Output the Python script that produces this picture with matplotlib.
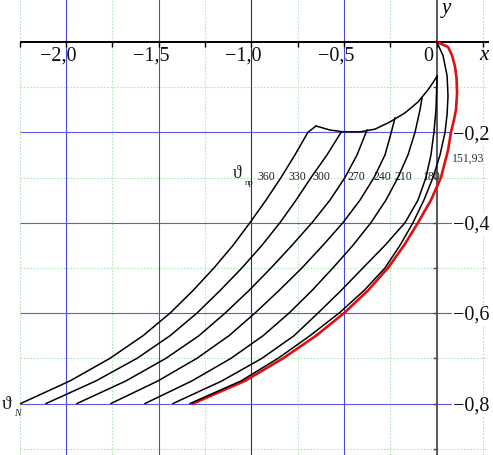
import matplotlib
matplotlib.use("Agg")
import matplotlib.pyplot as plt
import numpy as np

# ---------------- data ----------------
c360_x = [-2.245, -1.979, -1.763, -1.585, -1.439, -1.315, -1.202, -1.099, -1.008, -0.921, -0.840, -0.765, -0.695, -0.651]
c360_y = [-0.80, -0.75, -0.70, -0.65, -0.60, -0.55, -0.50, -0.45, -0.40, -0.35, -0.30, -0.25, -0.20, -0.186]

c330_x = [-2.108, -1.839, -1.617, -1.439, -1.294, -1.169, -1.051, -0.943, -0.846, -0.759, -0.678, -0.592, -0.516]
c330_y = [-0.80, -0.75, -0.70, -0.65, -0.60, -0.55, -0.50, -0.45, -0.40, -0.35, -0.30, -0.25, -0.200]

c300_x = [-1.941, -1.677, -1.461, -1.283, -1.142, -1.013, -0.894, -0.781, -0.673, -0.576, -0.495, -0.430, -0.381, -0.376]
c300_y = [-0.80, -0.75, -0.70, -0.65, -0.60, -0.55, -0.50, -0.45, -0.40, -0.35, -0.30, -0.25, -0.20, -0.195]

c270_x = [-1.758, -1.504, -1.294, -1.121, -0.981, -0.851, -0.727, -0.614, -0.506, -0.414, -0.338, -0.279, -0.245, -0.225]
c270_y = [-0.80, -0.75, -0.70, -0.65, -0.60, -0.55, -0.50, -0.45, -0.40, -0.35, -0.30, -0.25, -0.20, -0.168]

c240_x = [-1.574, -1.321, -1.110, -0.937, -0.797, -0.673, -0.560, -0.452, -0.355, -0.274, -0.209, -0.155, -0.117, -0.090, -0.079]
c240_y = [-0.80, -0.75, -0.70, -0.65, -0.60, -0.55, -0.50, -0.45, -0.40, -0.35, -0.30, -0.25, -0.20, -0.15, -0.124]

c210_x = [-1.423, -1.159, -0.943, -0.770, -0.641, -0.516, -0.398, -0.279, -0.171, -0.101, -0.058, -0.031, -0.015, -0.004, 0.002]
c210_y = [-0.80, -0.75, -0.70, -0.65, -0.60, -0.55, -0.50, -0.45, -0.40, -0.35, -0.30, -0.25, -0.20, -0.15, -0.078]

c180_x = [-1.331, -1.056, -0.856, -0.684, -0.527, -0.392, -0.279, -0.198, -0.128, -0.069, -0.020, 0.018, 0.045, 0.056, 0.061, 0.056, 0.034, 0.0]
c180_y = [-0.80, -0.75, -0.70, -0.65, -0.60, -0.55, -0.50, -0.45, -0.40, -0.35, -0.30, -0.25, -0.20, -0.16, -0.12, -0.075, -0.03, 0.0]

red_x = [-1.315, -1.035, -0.829, -0.651, -0.500, -0.371, -0.263, -0.176, -0.101, -0.031, 0.023, 0.061, 0.077, 0.093, 0.104, 0.110, 0.107, 0.099, 0.083, 0.061, 0.0]
red_y = [-0.80, -0.75, -0.70, -0.65, -0.60, -0.55, -0.50, -0.45, -0.40, -0.35, -0.30, -0.24, -0.20, -0.173, -0.15, -0.113, -0.08, -0.055, -0.03, -0.011, 0.0]

arc_x = [-0.651, -0.576, -0.500, -0.414, -0.333, -0.252, -0.171, -0.101, -0.047, -0.015, 0.002]
arc_y = [-0.186, -0.195, -0.199, -0.199, -0.193, -0.177, -0.157, -0.133, -0.106, -0.087, -0.075]

curve_labels = ["360", "330", "300", "270", "240", "210", "180"]
curve_label_x = [-0.917, -0.750, -0.620, -0.435, -0.295, -0.182, -0.025]

x_major = [-2.0, -1.5, -1.0, -0.5]
y_major = [-0.2, -0.4, -0.6, -0.8]
x_minor = [-2.25, -1.75, -1.25, -0.75, -0.25, 0.25]
y_minor = [-0.1, -0.3, -0.5, -0.7, -0.9]
x_ticklabels = ["\u22122,0", "\u22121,5", "\u22121,0", "\u22120,5", "0"]
x_ticklabel_pos = [-2.0, -1.5, -1.0, -0.5, 0.0]
y_ticklabels = ["\u22120,2", "\u22120,4", "\u22120,6", "\u22120,8"]
y_ticklabel_pos = [-0.2, -0.4, -0.6, -0.8]

# ---------------- figure ----------------
serif = ["Liberation Serif", "DejaVu Serif"]
fig = plt.figure(figsize=(4.93, 4.55), dpi=100)
ax = fig.add_axes([0, 0, 1, 1])
XL = (-2.3567, 0.3038)
YL = (-0.9139, 0.0927)
ax.set_xlim(*XL)
ax.set_ylim(*YL)
for s in ax.spines.values():
    s.set_visible(False)
ax.set_xticks([])
ax.set_yticks([])

gx0, gx1 = -2.25, 0.27
# grid
ax.vlines(x_minor, YL[0], YL[1], colors="#b4e2b4", lw=0.8, linestyles=(0, (1.5, 1.5)), zorder=1)
ax.hlines(y_minor, gx0, gx1, colors="#b4e2b4", lw=0.8, linestyles=(0, (1.5, 1.5)), zorder=1)
for xv in x_major:
    ax.axvline(xv, color="#2c2c78" if xv == -1.0 else "#4a4ad8", lw=0.8, zorder=1.2)
ax.hlines(y_major, gx0, gx1, colors="#5a5ae0", lw=0.8, zorder=1.2)

# axes lines
ax.plot([gx0, 0.283], [0, 0], color="black", lw=1.4, zorder=3, solid_capstyle="butt")
ax.axvline(0, color="#4a4a4a", lw=1.3, zorder=3)
xt = np.arange(-2.25, 0.26, 0.25)
ax.vlines(xt, -0.011, 0, colors="black", lw=1.0, zorder=3)
yt = np.arange(-0.9, 0.0, 0.1)
ax.hlines(yt, -0.022, 0, colors="#4a4a4a", lw=1.0, zorder=3)

# tick labels
for p, t in zip(x_ticklabel_pos, x_ticklabels):
    ax.text(p - 0.043, -0.032, t, ha="center", va="center", fontsize=14.5, family=serif, color="#111", zorder=4)
for p, t in zip(y_ticklabel_pos, y_ticklabels):
    ax.text(0.086, p - 0.005, t, ha="left", va="center", fontsize=14.5, family=serif, color="#111",
            zorder=4, bbox=dict(boxstyle="square,pad=0.05", fc="white", ec="none"))
ax.text(0.255, -0.031, "x", ha="center", va="center", fontsize=15, family=serif, style="italic", zorder=4)
ax.text(0.050, 0.073, "y", ha="center", va="center", fontsize=15, family=serif, style="italic", zorder=4)

# curves
for cx, cy in [(c360_x, c360_y), (c330_x, c330_y), (c300_x, c300_y), (c270_x, c270_y),
               (c240_x, c240_y), (c210_x, c210_y), (c180_x, c180_y)]:
    ax.plot(cx, cy, color="black", lw=1.1, zorder=5, solid_joinstyle="round")
ax.plot(arc_x, arc_y, color="black", lw=1.1, zorder=5, solid_joinstyle="round")
ax.plot(red_x, red_y, color="#e01010", lw=1.9, zorder=4.5, solid_joinstyle="round")

# curve labels
for lx, t in zip(curve_label_x, curve_labels):
    ax.text(lx, -0.299, t, ha="center", va="center", fontsize=8.5, family=serif, color="#222", zorder=3.5)
ax.text(-1.078, -0.292, "\u03d1", ha="center", va="center", fontsize=13, family=serif, color="#222", zorder=3.5)
ax.text(-1.012, -0.313, "\u043f\u0440", ha="center", va="center", fontsize=6, family=serif, color="#222", zorder=3.5)
ax.text(0.172, -0.259, "151,93", ha="center", va="center", fontsize=8.5, family=serif, color="#333", zorder=3.5)
ax.text(-2.319, -0.803, "\u03d1", ha="center", va="center", fontsize=14, family=serif, color="#222", zorder=3.5)
ax.text(-2.265, -0.823, "N", ha="center", va="center", fontsize=7, family=serif, style="italic", color="#222", zorder=3.5)

fig.savefig("out.png", dpi=100)
